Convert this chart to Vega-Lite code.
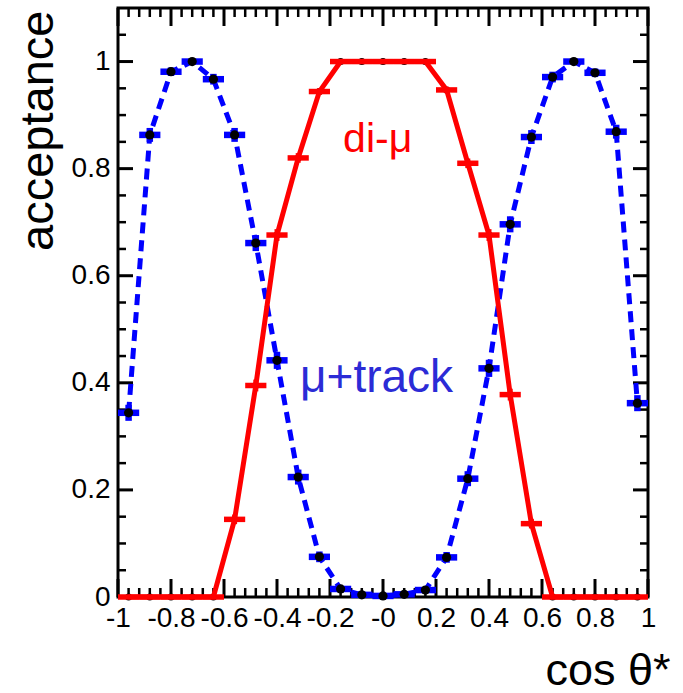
{
  "$schema": "https://vega.github.io/schema/vega-lite/v6.json",
  "width": 530,
  "height": 589,
  "autosize": "none",
  "padding": {"left": 118, "top": 8, "right": 35, "bottom": 96},
  "background": "white",
  "config": {
    "view": {"stroke": "black", "strokeWidth": 3},
    "axis": {
      "labelFont": "Liberation Sans",
      "titleFont": "Liberation Sans",
      "labelColor": "black",
      "titleColor": "black",
      "titleFontWeight": "normal",
      "domain": false,
      "ticks": false,
      "grid": false
    }
  },
  "datasets": {
    "acceptance": [
      {"cos": -0.96, "lo": -1.0, "hi": -0.92, "sel": "mu+track", "acc": 0.344, "err": 0.015},
      {"cos": -0.88, "lo": -0.92, "hi": -0.84, "sel": "mu+track", "acc": 0.863, "err": 0.013},
      {"cos": -0.80, "lo": -0.84, "hi": -0.76, "sel": "mu+track", "acc": 0.981, "err": 0.008},
      {"cos": -0.72, "lo": -0.76, "hi": -0.68, "sel": "mu+track", "acc": 1.0, "err": 0.003},
      {"cos": -0.64, "lo": -0.68, "hi": -0.60, "sel": "mu+track", "acc": 0.967, "err": 0.01},
      {"cos": -0.56, "lo": -0.60, "hi": -0.52, "sel": "mu+track", "acc": 0.863, "err": 0.013},
      {"cos": -0.48, "lo": -0.52, "hi": -0.44, "sel": "mu+track", "acc": 0.661, "err": 0.015},
      {"cos": -0.40, "lo": -0.44, "hi": -0.36, "sel": "mu+track", "acc": 0.442, "err": 0.016},
      {"cos": -0.32, "lo": -0.36, "hi": -0.28, "sel": "mu+track", "acc": 0.224, "err": 0.014},
      {"cos": -0.24, "lo": -0.28, "hi": -0.20, "sel": "mu+track", "acc": 0.075, "err": 0.01},
      {"cos": -0.16, "lo": -0.20, "hi": -0.12, "sel": "mu+track", "acc": 0.015, "err": 0.005},
      {"cos": -0.08, "lo": -0.12, "hi": -0.04, "sel": "mu+track", "acc": 0.004, "err": 0.003},
      {"cos": 0.00, "lo": -0.04, "hi": 0.04, "sel": "mu+track", "acc": 0.002, "err": 0.002},
      {"cos": 0.08, "lo": 0.04, "hi": 0.12, "sel": "mu+track", "acc": 0.005, "err": 0.003},
      {"cos": 0.16, "lo": 0.12, "hi": 0.20, "sel": "mu+track", "acc": 0.013, "err": 0.005},
      {"cos": 0.24, "lo": 0.20, "hi": 0.28, "sel": "mu+track", "acc": 0.074, "err": 0.01},
      {"cos": 0.32, "lo": 0.28, "hi": 0.36, "sel": "mu+track", "acc": 0.221, "err": 0.014},
      {"cos": 0.40, "lo": 0.36, "hi": 0.44, "sel": "mu+track", "acc": 0.427, "err": 0.016},
      {"cos": 0.48, "lo": 0.44, "hi": 0.52, "sel": "mu+track", "acc": 0.696, "err": 0.015},
      {"cos": 0.56, "lo": 0.52, "hi": 0.60, "sel": "mu+track", "acc": 0.859, "err": 0.013},
      {"cos": 0.64, "lo": 0.60, "hi": 0.68, "sel": "mu+track", "acc": 0.971, "err": 0.01},
      {"cos": 0.72, "lo": 0.68, "hi": 0.76, "sel": "mu+track", "acc": 1.0, "err": 0.003},
      {"cos": 0.80, "lo": 0.76, "hi": 0.84, "sel": "mu+track", "acc": 0.979, "err": 0.008},
      {"cos": 0.88, "lo": 0.84, "hi": 0.92, "sel": "mu+track", "acc": 0.869, "err": 0.013},
      {"cos": 0.96, "lo": 0.92, "hi": 1.0, "sel": "mu+track", "acc": 0.362, "err": 0.015},
      {"cos": -0.96, "lo": -1.0, "hi": -0.92, "sel": "di-mu", "acc": 0.0, "err": 0.002},
      {"cos": -0.88, "lo": -0.92, "hi": -0.84, "sel": "di-mu", "acc": 0.0, "err": 0.002},
      {"cos": -0.80, "lo": -0.84, "hi": -0.76, "sel": "di-mu", "acc": 0.0, "err": 0.002},
      {"cos": -0.72, "lo": -0.76, "hi": -0.68, "sel": "di-mu", "acc": 0.0, "err": 0.002},
      {"cos": -0.64, "lo": -0.68, "hi": -0.60, "sel": "di-mu", "acc": 0.0, "err": 0.002},
      {"cos": -0.56, "lo": -0.60, "hi": -0.52, "sel": "di-mu", "acc": 0.145, "err": 0.009},
      {"cos": -0.48, "lo": -0.52, "hi": -0.44, "sel": "di-mu", "acc": 0.395, "err": 0.011},
      {"cos": -0.40, "lo": -0.44, "hi": -0.36, "sel": "di-mu", "acc": 0.676, "err": 0.011},
      {"cos": -0.32, "lo": -0.36, "hi": -0.28, "sel": "di-mu", "acc": 0.82, "err": 0.009},
      {"cos": -0.24, "lo": -0.28, "hi": -0.20, "sel": "di-mu", "acc": 0.944, "err": 0.006},
      {"cos": -0.16, "lo": -0.20, "hi": -0.12, "sel": "di-mu", "acc": 1.0, "err": 0.002},
      {"cos": -0.08, "lo": -0.12, "hi": -0.04, "sel": "di-mu", "acc": 1.0, "err": 0.002},
      {"cos": 0.00, "lo": -0.04, "hi": 0.04, "sel": "di-mu", "acc": 1.0, "err": 0.002},
      {"cos": 0.08, "lo": 0.04, "hi": 0.12, "sel": "di-mu", "acc": 1.0, "err": 0.002},
      {"cos": 0.16, "lo": 0.12, "hi": 0.20, "sel": "di-mu", "acc": 1.0, "err": 0.002},
      {"cos": 0.24, "lo": 0.20, "hi": 0.28, "sel": "di-mu", "acc": 0.947, "err": 0.006},
      {"cos": 0.32, "lo": 0.28, "hi": 0.36, "sel": "di-mu", "acc": 0.81, "err": 0.009},
      {"cos": 0.40, "lo": 0.36, "hi": 0.44, "sel": "di-mu", "acc": 0.676, "err": 0.011},
      {"cos": 0.48, "lo": 0.44, "hi": 0.52, "sel": "di-mu", "acc": 0.378, "err": 0.011},
      {"cos": 0.56, "lo": 0.52, "hi": 0.60, "sel": "di-mu", "acc": 0.137, "err": 0.009},
      {"cos": 0.64, "lo": 0.60, "hi": 0.68, "sel": "di-mu", "acc": 0.0, "err": 0.002},
      {"cos": 0.72, "lo": 0.68, "hi": 0.76, "sel": "di-mu", "acc": 0.0, "err": 0.002},
      {"cos": 0.80, "lo": 0.76, "hi": 0.84, "sel": "di-mu", "acc": 0.0, "err": 0.002},
      {"cos": 0.88, "lo": 0.84, "hi": 0.92, "sel": "di-mu", "acc": 0.0, "err": 0.002},
      {"cos": 0.96, "lo": 0.92, "hi": 1.0, "sel": "di-mu", "acc": 0.0, "err": 0.002}
    ],
    "xMajor": [{"v": -1}, {"v": -0.8}, {"v": -0.6}, {"v": -0.4}, {"v": -0.2}, {"v": 0}, {"v": 0.2}, {"v": 0.4}, {"v": 0.6}, {"v": 0.8}, {"v": 1}],
    "xMinor": [{"v": -0.96}, {"v": -0.92}, {"v": -0.88}, {"v": -0.84}, {"v": -0.76}, {"v": -0.72}, {"v": -0.68}, {"v": -0.64}, {"v": -0.56}, {"v": -0.52}, {"v": -0.48}, {"v": -0.44}, {"v": -0.36}, {"v": -0.32}, {"v": -0.28}, {"v": -0.24}, {"v": -0.16}, {"v": -0.12}, {"v": -0.08}, {"v": -0.04}, {"v": 0.04}, {"v": 0.08}, {"v": 0.12}, {"v": 0.16}, {"v": 0.24}, {"v": 0.28}, {"v": 0.32}, {"v": 0.36}, {"v": 0.44}, {"v": 0.48}, {"v": 0.52}, {"v": 0.56}, {"v": 0.64}, {"v": 0.68}, {"v": 0.72}, {"v": 0.76}, {"v": 0.84}, {"v": 0.88}, {"v": 0.92}, {"v": 0.96}],
    "yMajor": [{"v": 0}, {"v": 0.2}, {"v": 0.4}, {"v": 0.6}, {"v": 0.8}, {"v": 1}],
    "yMinor": [{"v": 0.05}, {"v": 0.1}, {"v": 0.15}, {"v": 0.25}, {"v": 0.3}, {"v": 0.35}, {"v": 0.45}, {"v": 0.5}, {"v": 0.55}, {"v": 0.65}, {"v": 0.7}, {"v": 0.75}, {"v": 0.85}, {"v": 0.9}, {"v": 0.95}, {"v": 1.05}]
  },
  "data": {"name": "acceptance"},
  "layer": [
    {
      "data": {"name": "xMajor"},
      "mark": {"type": "tick", "orient": "vertical", "color": "black", "opacity": 1, "size": 18, "thickness": 3, "yOffset": -9},
      "encoding": {
        "x": {
          "field": "v", "type": "quantitative", "title": "cos θ*",
          "scale": {"domain": [-1, 1], "nice": false, "zero": false},
          "axis": {
            "orient": "bottom",
            "values": [-1, -0.8, -0.6, -0.4, -0.2, 0, 0.2, 0.4, 0.6, 0.8, 1],
            "labelFontSize": 28, "labelPadding": 7,
            "labelOverlap": false, "labelFlush": false, "labelBound": false,
            "labelExpr": "datum.value == 0 ? '-0' : (datum.value < 0 ? '-' : '') + format(abs(datum.value), '')",
            "title": "cos θ*", "titleFontSize": 45,
            "titleAnchor": "end", "titleAlign": "right", "titleBaseline": "alphabetic",
            "titleX": 552, "titleY": 87
          }
        },
        "y": {
          "datum": 0, "type": "quantitative", "title": "acceptance",
          "scale": {"domain": [0, 1.1], "nice": false, "zero": false},
          "axis": {
            "orient": "left",
            "values": [0, 0.2, 0.4, 0.6, 0.8, 1],
            "labelFontSize": 28, "labelPadding": 8,
            "labelOverlap": false, "labelFlush": false, "labelBound": false,
            "labelExpr": "format(datum.value, '')",
            "title": "acceptance", "titleFontSize": 47, "titleAngle": -90,
            "titleAnchor": "end", "titleAlign": "right", "titleBaseline": "alphabetic",
            "titleX": -66, "titleY": 2
          }
        }
      }
    },
    {
      "data": {"name": "xMajor"},
      "mark": {"type": "tick", "orient": "vertical", "color": "black", "opacity": 1, "size": 18, "thickness": 3, "yOffset": 9},
      "encoding": {
        "x": {"field": "v", "type": "quantitative", "title": "cos θ*"},
        "y": {"datum": 1.1, "type": "quantitative", "title": "acceptance"}
      }
    },
    {
      "data": {"name": "xMinor"},
      "mark": {"type": "tick", "orient": "vertical", "color": "black", "opacity": 1, "size": 9, "thickness": 2.5, "yOffset": -4.5},
      "encoding": {
        "x": {"field": "v", "type": "quantitative", "title": "cos θ*"},
        "y": {"datum": 0, "type": "quantitative", "title": "acceptance"}
      }
    },
    {
      "data": {"name": "xMinor"},
      "mark": {"type": "tick", "orient": "vertical", "color": "black", "opacity": 1, "size": 9, "thickness": 2.5, "yOffset": 4.5},
      "encoding": {
        "x": {"field": "v", "type": "quantitative", "title": "cos θ*"},
        "y": {"datum": 1.1, "type": "quantitative", "title": "acceptance"}
      }
    },
    {
      "data": {"name": "yMajor"},
      "mark": {"type": "tick", "orient": "horizontal", "color": "black", "opacity": 1, "size": 15, "thickness": 3, "xOffset": 7.5},
      "encoding": {
        "x": {"datum": -1, "type": "quantitative", "title": "cos θ*"},
        "y": {"field": "v", "type": "quantitative", "title": "acceptance"}
      }
    },
    {
      "data": {"name": "yMajor"},
      "mark": {"type": "tick", "orient": "horizontal", "color": "black", "opacity": 1, "size": 15, "thickness": 3, "xOffset": -7.5},
      "encoding": {
        "x": {"datum": 1, "type": "quantitative", "title": "cos θ*"},
        "y": {"field": "v", "type": "quantitative", "title": "acceptance"}
      }
    },
    {
      "data": {"name": "yMinor"},
      "mark": {"type": "tick", "orient": "horizontal", "color": "black", "opacity": 1, "size": 8, "thickness": 2.5, "xOffset": 4},
      "encoding": {
        "x": {"datum": -1, "type": "quantitative", "title": "cos θ*"},
        "y": {"field": "v", "type": "quantitative", "title": "acceptance"}
      }
    },
    {
      "data": {"name": "yMinor"},
      "mark": {"type": "tick", "orient": "horizontal", "color": "black", "opacity": 1, "size": 8, "thickness": 2.5, "xOffset": -4},
      "encoding": {
        "x": {"datum": 1, "type": "quantitative", "title": "cos θ*"},
        "y": {"field": "v", "type": "quantitative", "title": "acceptance"}
      }
    },
    {
      "transform": [{"filter": "datum.sel == 'mu+track'"}],
      "mark": {"type": "line", "color": "#0000ff", "strokeWidth": 5, "strokeDash": [11, 7]},
      "encoding": {
        "x": {"field": "cos", "type": "quantitative", "title": "cos θ*"},
        "y": {"field": "acc", "type": "quantitative", "title": "acceptance"}
      }
    },
    {
      "transform": [{"filter": "datum.sel == 'mu+track'"}],
      "mark": {"type": "rule", "color": "#0000ff", "strokeWidth": 6.5},
      "encoding": {
        "x": {"field": "lo", "type": "quantitative", "title": "cos θ*"},
        "x2": {"field": "hi"},
        "y": {"field": "acc", "type": "quantitative", "title": "acceptance"}
      }
    },
    {
      "transform": [{"filter": "datum.sel == 'mu+track'"}],
      "mark": {"type": "errorbar", "color": "#0000ff", "thickness": 6.5},
      "encoding": {
        "x": {"field": "cos", "type": "quantitative", "title": "cos θ*"},
        "y": {"field": "acc", "type": "quantitative", "title": "acceptance"},
        "yError": {"field": "err"}
      }
    },
    {
      "transform": [{"filter": "datum.sel == 'mu+track'"}],
      "mark": {"type": "point", "filled": true, "color": "black", "opacity": 1, "size": 85},
      "encoding": {
        "x": {"field": "cos", "type": "quantitative", "title": "cos θ*"},
        "y": {"field": "acc", "type": "quantitative", "title": "acceptance"}
      }
    },
    {
      "transform": [{"filter": "datum.sel == 'di-mu'"}],
      "mark": {"type": "point", "filled": true, "color": "black", "opacity": 1, "size": 50},
      "encoding": {
        "x": {"field": "cos", "type": "quantitative", "title": "cos θ*"},
        "y": {"field": "acc", "type": "quantitative", "title": "acceptance"}
      }
    },
    {
      "transform": [{"filter": "datum.sel == 'di-mu'"}],
      "mark": {"type": "line", "color": "#ff0000", "strokeWidth": 5},
      "encoding": {
        "x": {"field": "cos", "type": "quantitative", "title": "cos θ*"},
        "y": {"field": "acc", "type": "quantitative", "title": "acceptance"}
      }
    },
    {
      "transform": [{"filter": "datum.sel == 'di-mu'"}],
      "mark": {"type": "rule", "color": "#ff0000", "strokeWidth": 5.5},
      "encoding": {
        "x": {"field": "lo", "type": "quantitative", "title": "cos θ*"},
        "x2": {"field": "hi"},
        "y": {"field": "acc", "type": "quantitative", "title": "acceptance"}
      }
    },
    {
      "transform": [{"filter": "datum.sel == 'di-mu'"}],
      "mark": {"type": "errorbar", "color": "#ff0000", "thickness": 5},
      "encoding": {
        "x": {"field": "cos", "type": "quantitative", "title": "cos θ*"},
        "y": {"field": "acc", "type": "quantitative", "title": "acceptance"},
        "yError": {"field": "err"}
      }
    },
    {
      "data": {"values": [{"label": "di-μ", "x": -0.02, "y": 0.831}]},
      "mark": {"type": "text", "color": "#ff0000", "font": "Liberation Sans", "fontSize": 41, "align": "center", "baseline": "alphabetic"},
      "encoding": {
        "x": {"field": "x", "type": "quantitative", "title": "cos θ*"},
        "y": {"field": "y", "type": "quantitative", "title": "acceptance"},
        "text": {"field": "label"}
      }
    },
    {
      "data": {"values": [{"label": "μ+track", "x": -0.313, "y": 0.382}]},
      "mark": {"type": "text", "color": "#2b2bd6", "font": "Liberation Sans", "fontSize": 46, "align": "left", "baseline": "alphabetic"},
      "encoding": {
        "x": {"field": "x", "type": "quantitative", "title": "cos θ*"},
        "y": {"field": "y", "type": "quantitative", "title": "acceptance"},
        "text": {"field": "label"}
      }
    }
  ]
}
